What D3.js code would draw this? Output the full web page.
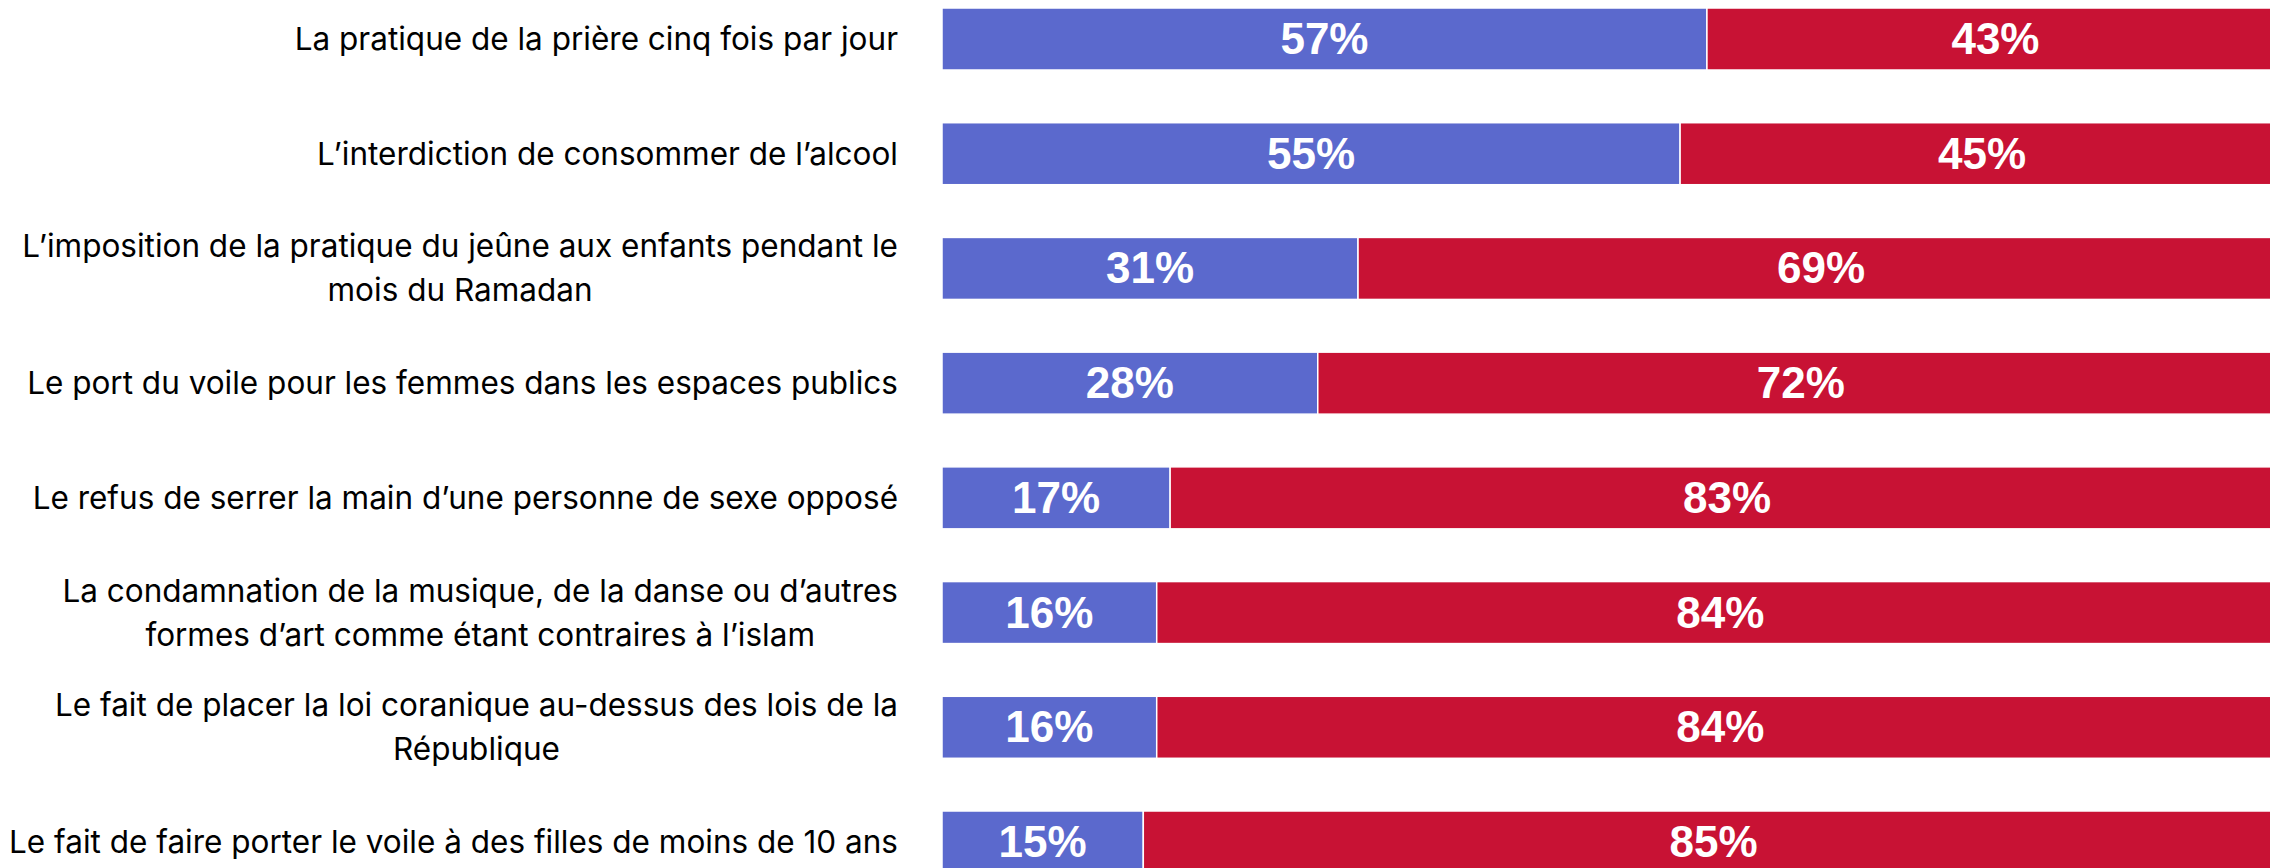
<!DOCTYPE html>
<html lang="fr">
<head>
<meta charset="utf-8">
<title>barres empilées</title>
<script src="https://cdn.jsdelivr.net/npm/d3@7"></script>
<style>
	html, body { margin: 0; padding: 0; background: #fff; overflow: hidden; }
	svg { display: block; }
</style>
</head>
<body>
<script>
	// categories ("\n" = retour à la ligne du libellé)
	const categories = [
		"La pratique de la prière cinq fois par jour",
		"L’interdiction de consommer de l’alcool",
		"L’imposition de la pratique du jeûne aux enfants pendant le\nmois du Ramadan",
		"Le port du voile pour les femmes dans les espaces publics",
		"Le refus de serrer la main d’une personne de sexe opposé",
		"La condamnation de la musique, de la danse ou d’autres\nformes d’art comme étant contraires à l’islam",
		"Le fait de placer la loi coranique au-dessus des lois de la\nRépublique",
		"Le fait de faire porter le voile à des filles de moins de 10 ans"
	];
	const seriesKeys = ["a", "b"];
	const valuesA = [57, 55, 31, 28, 17, 16, 16, 15];
	const valuesB = [43, 45, 69, 72, 83, 84, 84, 85];
	const colors = ["#5B69CD", "#C81234"];

	const width = 2270, height = 868;

	const rows = categories.map((c, i) => ({ cat: c, a: valuesA[i], b: valuesB[i] }));
	const stacked = d3.stack().keys(seriesKeys)(rows);

	const x = d3.scaleLinear().domain([0, 100]).range([942, 2284]);
	const y = d3.scaleBand()
		.domain(categories)
		.range([8, 873])
		.paddingInner(0.4595)
		.paddingOuter(0);

	const svg = d3.select("body").append("svg")
		.attr("width", width)
		.attr("height", height);

	const layers = svg.append("g").attr("class", "bars")
		.selectAll("g")
		.data(stacked)
		.join("g")
		.attr("fill", (d, i) => colors[i]);

	layers.selectAll("rect")
		.data(d => d)
		.join("rect")
		.attr("x", d => x(d[0]))
		.attr("y", d => y(d.data.cat))
		.attr("width", d => x(d[1]) - x(d[0]))
		.attr("height", y.bandwidth())
		.attr("stroke", "#fff")
		.attr("stroke-width", 1.5);

	// valeurs dans les barres
	layers.selectAll("text")
		.data(d => d)
		.join("text")
		.attr("x", d => (x(d[0]) + x(d[1])) / 2)
		.attr("y", d => y(d.data.cat) + y.bandwidth() / 2 + 15)
		.attr("text-anchor", "middle")
		.attr("fill", "#fff")
		.attr("font-family", "'Liberation Sans', Arial, sans-serif")
		.attr("font-weight", "bold")
		.attr("font-size", 44)
		.text(d => (d[1] - d[0]) + "%");

	// libellés des catégories
	const labelRight = 898;
	const lineH = 44;
	const labels = svg.append("g").attr("class", "labels")
		.attr("font-family", "Inter, 'Noto Sans', sans-serif")
		.attr("font-size", 31.5)
		.attr("fill", "#000");

	categories.forEach(cat => {
		const lines = cat.split("\n");
		const cy = y(cat) + y.bandwidth() / 2;
		const t = labels.append("text");
		if (lines.length === 1) {
			t.attr("x", labelRight)
				.attr("y", cy + 11)
				.attr("text-anchor", "end")
				.text(lines[0]);
			return;
		}
		const tspans = t.selectAll("tspan")
			.data(lines)
			.join("tspan")
			.attr("y", (d, i) => cy - 11 + i * lineH)
			.text(d => d);
		// bloc aligné à droite, lignes centrées
		let maxW = 0;
		tspans.each(function () { maxW = Math.max(maxW, this.getComputedTextLength()); });
		tspans.attr("x", labelRight - maxW / 2).attr("text-anchor", "middle");
	});
</script>
</body>
</html>
